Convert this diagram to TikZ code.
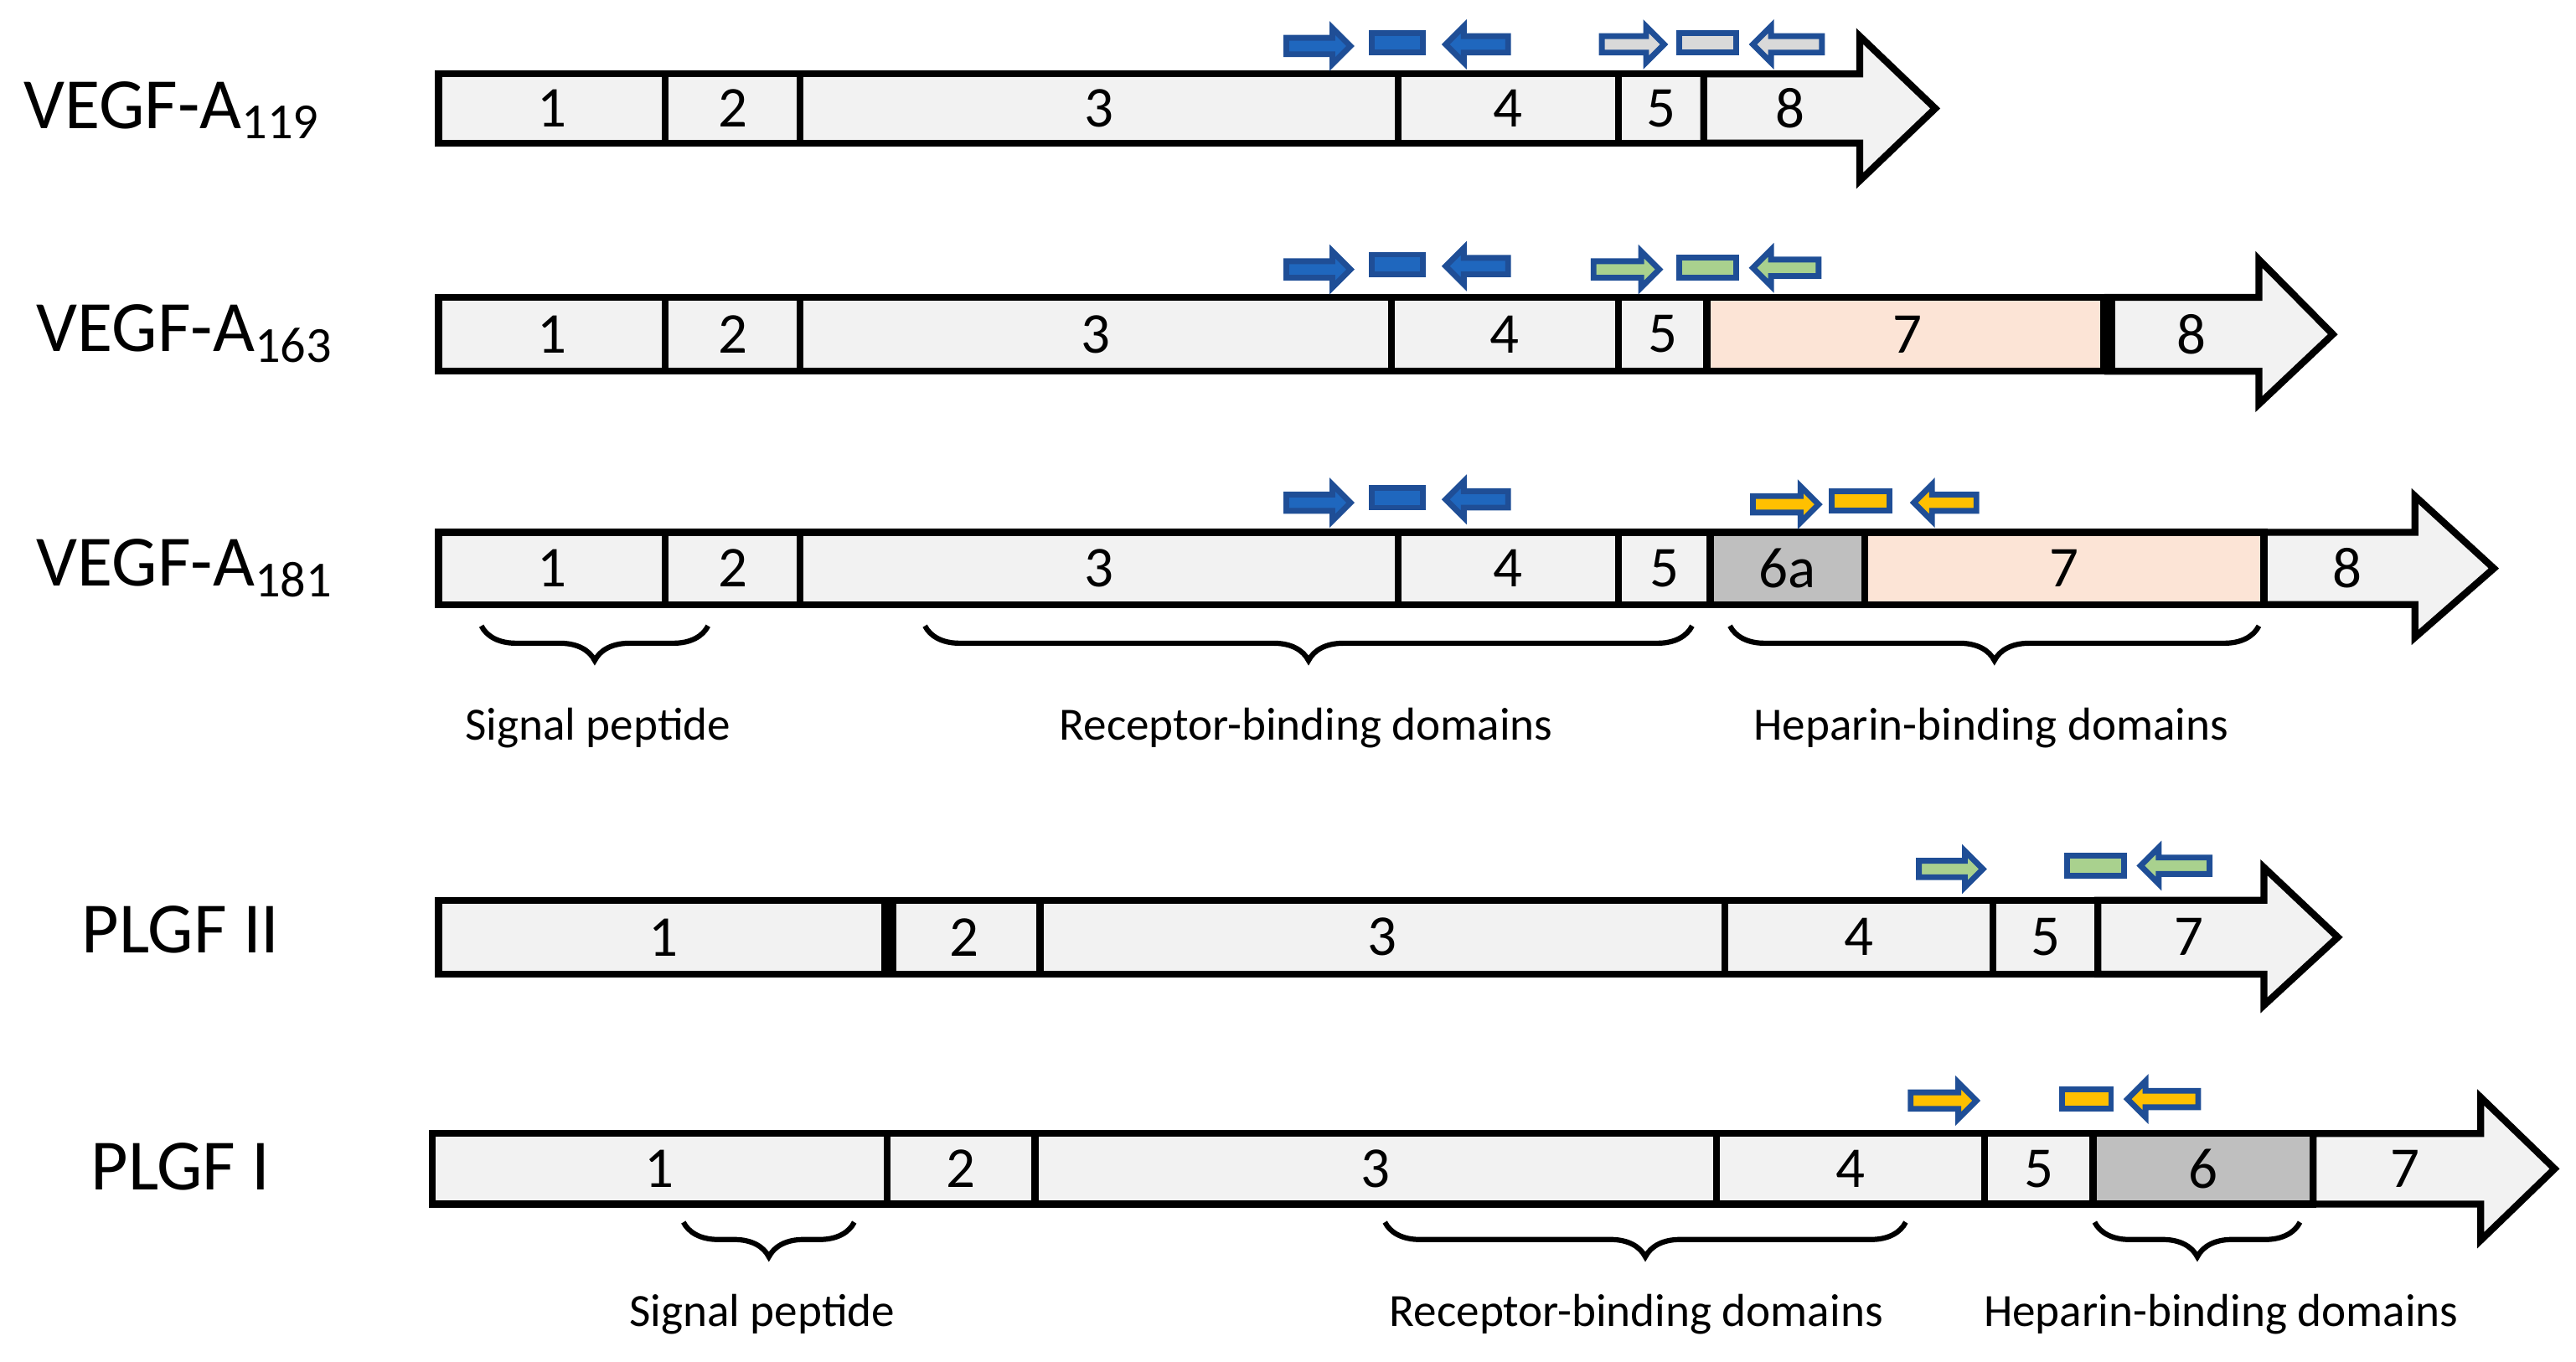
\documentclass[tikz,border=0pt]{standalone}
\usepackage{fontspec}
\setmainfont{Carlito}
\usetikzlibrary{decorations.pathreplacing}
\definecolor{lg}{HTML}{F2F2F2}
\definecolor{peach}{HTML}{FCE4D6}
\definecolor{gr}{HTML}{BFBFBF}
\definecolor{bl}{HTML}{1F67BE}
\definecolor{bd}{HTML}{1F4E96}
\definecolor{grn}{HTML}{A9D18E}
\definecolor{yel}{HTML}{FFC000}
\definecolor{lf}{HTML}{D9D9D9}
\tikzset{seg/.style={draw=black,line width=1.2pt},
  num/.style={font=\fontsize{10}{11}\selectfont},
  gname/.style={font=\fontsize{12.5}{13}\selectfont},
  lab/.style={font=\fontsize{8}{9}\selectfont},
  br/.style={draw=black,line width=0.9pt,decorate,decoration={brace,mirror,amplitude=6pt}},
  prim/.style={draw=bd,line width=1pt}}
\newcommand{\sg}[6]{\path[seg,fill=#5] (#1,#3) rectangle (#2,#4);
  \node[num] at ({(#1+#2)/2},{(#3+#4)/2}) {#6};}
\newcommand{\ar}[8]{\path[seg,fill=lg,line join=miter] (#1,#4)--(#2,#4)--(#2,#6)--(#3,{(#4+#5)/2})--(#2,#7)--(#2,#5)--(#1,#5)--cycle;
  \node[num] at ({(#1+#2)/2+5},{(#4+#5)/2}) {#8};}
\newcommand{\pf}[4]{\path[prim,fill=#4] (#1,#3-5)--(#2-11,#3-5)--(#2-11,#3-11)--(#2,#3)--(#2-11,#3+11)--(#2-11,#3+5)--(#1,#3+5)--cycle;}
\newcommand{\pb}[4]{\path[prim,fill=#4] (#2,#3-5)--(#1+11,#3-5)--(#1+11,#3-11)--(#1,#3)--(#1+11,#3+11)--(#1+11,#3+5)--(#2,#3+5)--cycle;}
\newcommand{\prr}[4]{\path[prim,fill=#4] (#1,#3-6) rectangle (#2,#3+6);}
\begin{document}
\begin{tikzpicture}[x=0.01cm,y=-0.01cm]
\useasboundingbox (0,0) rectangle (1568,829);
% Row 1
\node[gname] (n1) at (105,67) {VEGF-A\textsubscript{119}};
\sg{267}{405}{45}{87}{lg}{1}\sg{405}{487}{45}{87}{lg}{2}\sg{487}{851}{45}{87}{lg}{3}
\sg{851}{985}{45}{87}{lg}{4}\sg{985}{1037}{45}{87}{lg}{5}
\ar{1037}{1132}{1178}{45}{87}{22}{110}{8}
\pf{783}{822}{28}{bl}\prr{835}{866}{26}{bl}\pb{880}{918}{27}{bl}
\pf{975}{1013}{27}{lf}\prr{1022}{1057}{26}{lf}\pb{1067}{1109}{27}{lf}
% Row 2
\node[gname] (n2) at (113,203) {VEGF-A\textsubscript{163}};
\sg{267}{405}{181}{226}{lg}{1}\sg{405}{487}{181}{226}{lg}{2}\sg{487}{847}{181}{226}{lg}{3}
\sg{847}{985}{181}{226}{lg}{4}\sg{985}{1039}{181}{226}{lg}{5}
\ar{1283}{1375}{1420}{181}{226}{158}{246}{8}
\sg{1039}{1283}{181}{226}{peach}{7}
\draw[line width=2.5pt] (1283,181)--(1283,226);
\pf{783}{822}{164}{bl}\prr{835}{866}{161}{bl}\pb{880}{918}{162}{bl}
\pf{970}{1010}{164}{grn}\prr{1022}{1057}{163}{grn}\pb{1067}{1107}{163}{grn}
% Row 3
\node[gname] (n3) at (113,346) {VEGF-A\textsubscript{181}};
\sg{267}{405}{324}{368}{lg}{1}\sg{405}{487}{324}{368}{lg}{2}\sg{487}{851}{324}{368}{lg}{3}
\sg{851}{985}{324}{368}{lg}{4}\sg{985}{1041}{324}{368}{lg}{5}
\ar{1378}{1470}{1518}{324}{368}{302}{388}{8}
\sg{1041}{1135}{324}{368}{gr}{6a}\sg{1135}{1378}{324}{368}{peach}{7}
\pf{783}{822}{306}{bl}\prr{835}{866}{303}{bl}\pb{880}{918}{304}{bl}
\pf{1067}{1107}{307}{yel}\prr{1115}{1150}{305}{yel}\pb{1165}{1203}{306}{yel}
\draw[br] (293,381)--(431,381);
\draw[br] (563,381)--(1030,381);
\draw[br] (1053,381)--(1375,381);
\node[lab] (s1) at (364,443) {Signal peptide};
\node[lab] (r1) at (795,443) {Receptor-binding domains};
\node[lab] (h1) at (1212,443) {Heparin-binding domains};
% Row 4
\node[gname] (n4) at (110,566) {PLGF II};
\sg{267}{541}{548}{593}{lg}{1}\sg{541}{633}{548}{593}{lg}{2}\sg{633}{1050}{548}{593}{lg}{3}
\sg{1050}{1213}{548}{593}{lg}{4}\sg{1213}{1277}{548}{593}{lg}{5}
\ar{1277}{1378}{1423}{548}{593}{528}{612}{7}
\draw[line width=2.5pt] (541,548)--(541,593);
\pf{1168}{1207}{529}{grn}\prr{1258}{1293}{527}{grn}\pb{1303}{1345}{527}{grn}
% Row 5
\node[gname] (n5) at (110,710) {PLGF I};
\sg{263}{540}{690}{733}{lg}{1}\sg{540}{630}{690}{733}{lg}{2}\sg{630}{1045}{690}{733}{lg}{3}
\sg{1045}{1208}{690}{733}{lg}{4}\sg{1208}{1274}{690}{733}{lg}{5}
\sg{1274}{1408}{690}{733}{gr}{6}
\ar{1408}{1510}{1555}{690}{733}{668}{755}{7}
\pf{1163}{1203}{670}{yel}\prr{1255}{1285}{669}{yel}\pb{1295}{1338}{669}{yel}
\draw[br] (416,744)--(520,744);
\draw[br] (843,744)--(1160,744);
\draw[br] (1275,744)--(1400,744);
\node[lab] (s2) at (464,800) {Signal peptide};
\node[lab] (r2) at (996,800) {Receptor-binding domains};
\node[lab] (h2) at (1352,800) {Heparin-binding domains};
\end{tikzpicture}
\end{document}
